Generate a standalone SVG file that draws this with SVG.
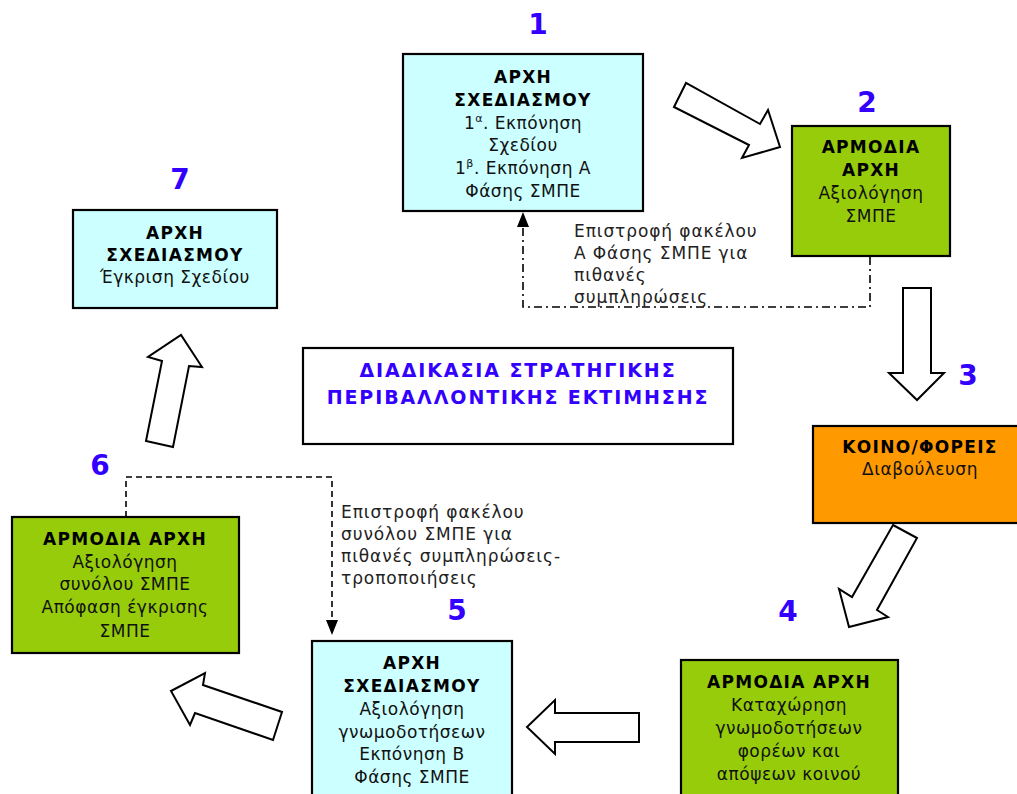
<svg xmlns="http://www.w3.org/2000/svg" width="1017" height="794" viewBox="0 0 1017 794">
<defs>
<style>
.box{stroke:#000;stroke-width:2.2}
.cyan{fill:#CCFFFF}
.green{fill:#96CC0A}
.orange{fill:#FF9900}
.white{fill:#fff}
.t{font-family:"DejaVu Sans",Verdana,sans-serif;font-size:17px;letter-spacing:0.5px;fill:#111;text-anchor:middle}
.b{font-weight:bold;fill:#000;letter-spacing:1.3px}
.num{font-family:"DejaVu Sans",Verdana,sans-serif;font-size:28px;font-weight:bold;fill:#3300FF;text-anchor:middle}
.title{font-family:"DejaVu Sans",Verdana,sans-serif;font-size:19px;letter-spacing:1.9px;font-weight:bold;fill:#3300FF;text-anchor:middle}
.lbl{font-family:"DejaVu Sans",Verdana,sans-serif;font-size:17px;letter-spacing:0.9px;fill:#222}
.blk{fill:#fff;stroke:#000;stroke-width:2;stroke-linejoin:miter}
.dd{fill:none;stroke:#000;stroke-width:1.6;stroke-dasharray:8 4 2 4}
.ds{fill:none;stroke:#000;stroke-width:1.6;stroke-dasharray:6 4}
</style>
</defs>
<rect width="1017" height="794" fill="#fff"/>

<g id="connectors">
<polygon class="blk" points="674,107 686,83 760,124 768,110 780,147 742,158 749,145"/>
<polygon class="blk" points="903,288 931,288 931,373 944,373 917,400 889,373 903,373"/>
<polygon class="blk" points="893,525 917,538 877,610 888,617 849,627 839,589 852,597"/>
<polygon class="blk" points="639,713 555,713 555,700 527,727 555,754 555,742 639,742"/>
<polygon class="blk" points="171,691 205,673 203,685 282,712 273,740 195,713 190,725"/>
<polygon class="blk" points="146,441 162,361 148,357 181,335 202,367 189,366 173,447"/>
<path class="dd" d="M870,257 V307 H523 V226"/>
<path d="M517,227 L523,212 L529,227 z" fill="#000"/>
<path class="ds" d="M126,517 V477 H332 V620"/>
<path d="M326,620 L332,635 L338,620 z" fill="#000"/>
<text class="lbl" x="574" y="237">Επιστροφή φακέλου</text>
<text class="lbl" x="574" y="259">Α Φάσης ΣΜΠΕ για</text>
<text class="lbl" x="574" y="281">πιθανές</text>
<text class="lbl" x="574" y="303">συμπληρώσεις</text>
<text class="lbl" x="341" y="518">Επιστροφή φακέλου</text>
<text class="lbl" x="341" y="540">συνόλου ΣΜΠΕ για</text>
<text class="lbl" x="341" y="562">πιθανές συμπληρώσεις-</text>
<text class="lbl" x="341" y="584">τροποποιήσεις</text>
</g>

<g id="node1">
<text class="num" x="538" y="34">1</text>
<rect class="box cyan" x="403" y="54" width="240" height="157"/>
<text class="t b" x="523" y="83">ΑΡΧΗ</text>
<text class="t b" x="523" y="106">ΣΧΕΔΙΑΣΜΟΥ</text>
<text class="t" x="523" y="129">1<tspan dy="-7" font-size="11">α</tspan><tspan dy="7">. Εκπόνηση</tspan></text>
<text class="t" x="523" y="151">Σχεδίου</text>
<text class="t" x="523" y="174">1<tspan dy="-7" font-size="11">β</tspan><tspan dy="7">. Εκπόνηση Α</tspan></text>
<text class="t" x="523" y="197">Φάσης ΣΜΠΕ</text>
</g>

<g id="node2">
<text class="num" x="867" y="112">2</text>
<rect class="box green" x="792" y="126" width="158" height="130"/>
<text class="t b" x="871" y="153">ΑΡΜΟΔΙΑ</text>
<text class="t b" x="871" y="176">ΑΡΧΗ</text>
<text class="t" x="871" y="199">Αξιολόγηση</text>
<text class="t" x="871" y="222">ΣΜΠΕ</text>
</g>

<g id="node3">
<text class="num" x="968" y="385">3</text>
<rect class="box orange" x="813" y="426" width="220" height="97"/>
<text class="t b" x="920" y="453">ΚΟΙΝΟ/ΦΟΡΕΙΣ</text>
<text class="t" x="920" y="475">Διαβούλευση</text>
</g>

<g id="node4">
<text class="num" x="788" y="621">4</text>
<rect class="box green" x="681" y="660" width="217" height="150"/>
<text class="t b" x="789" y="688">ΑΡΜΟΔΙΑ ΑΡΧΗ</text>
<text class="t" x="789" y="711">Καταχώρηση</text>
<text class="t" x="789" y="734">γνωμοδοτήσεων</text>
<text class="t" x="789" y="757">φορέων και</text>
<text class="t" x="789" y="780">απόψεων κοινού</text>
</g>

<g id="node5">
<text class="num" x="457" y="620">5</text>
<rect class="box cyan" x="312" y="641" width="200" height="170"/>
<text class="t b" x="412" y="669">ΑΡΧΗ</text>
<text class="t b" x="412" y="692">ΣΧΕΔΙΑΣΜΟΥ</text>
<text class="t" x="412" y="715">Αξιολόγηση</text>
<text class="t" x="412" y="738">γνωμοδοτήσεων</text>
<text class="t" x="412" y="760">Εκπόνηση Β</text>
<text class="t" x="412" y="783">Φάσης ΣΜΠΕ</text>
</g>

<g id="node6">
<text class="num" x="100" y="475">6</text>
<rect class="box green" x="12" y="517" width="227" height="136"/>
<text class="t b" x="125" y="545">ΑΡΜΟΔΙΑ ΑΡΧΗ</text>
<text class="t" x="125" y="568">Αξιολόγηση</text>
<text class="t" x="125" y="590">συνόλου ΣΜΠΕ</text>
<text class="t" x="125" y="613">Απόφαση έγκρισης</text>
<text class="t" x="125" y="637">ΣΜΠΕ</text>
</g>

<g id="node7">
<text class="num" x="180" y="189">7</text>
<rect class="box cyan" x="73" y="210" width="204" height="98"/>
<text class="t b" x="175" y="239">ΑΡΧΗ</text>
<text class="t b" x="175" y="261">ΣΧΕΔΙΑΣΜΟΥ</text>
<text class="t" x="175" y="283">Έγκριση Σχεδίου</text>
</g>

<g id="title">
<rect class="box white" x="303" y="348" width="430" height="96"/>
<text class="title" x="518" y="377">ΔΙΑΔΙΚΑΣΙΑ ΣΤΡΑΤΗΓΙΚΗΣ</text>
<text class="title" x="518" y="404">ΠΕΡΙΒΑΛΛΟΝΤΙΚΗΣ ΕΚΤΙΜΗΣΗΣ</text>
</g>
</svg>
